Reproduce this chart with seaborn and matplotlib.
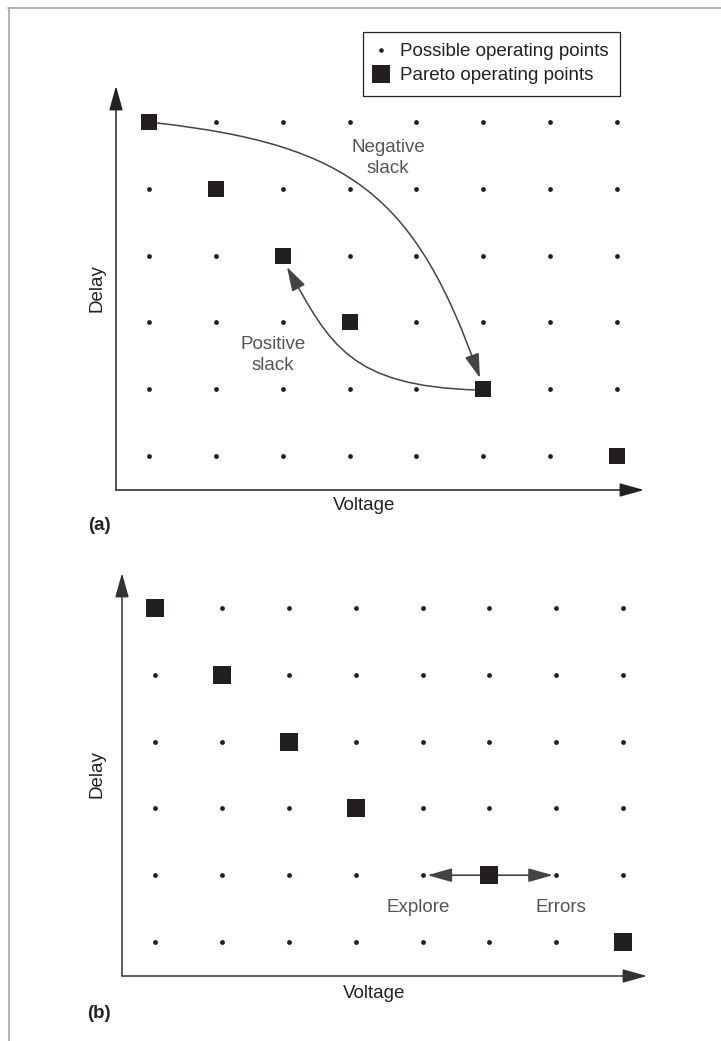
import numpy as np
import pandas as pd
import matplotlib
matplotlib.use("Agg")
import matplotlib.pyplot as plt
from matplotlib.patches import FancyArrowPatch
from matplotlib.path import Path
from matplotlib.lines import Line2D
import seaborn as sns

# ---- data -------------------------------------------------------------
voltage_levels = [0, 1, 2, 3, 4, 5, 6, 7]
delay_levels = [0, 1, 2, 3, 4, 5]

pareto_a_voltage = [0, 1, 2, 3, 5, 7]
pareto_a_delay = [5, 4, 3, 2, 1, 0]

pareto_b_voltage = [0, 1, 2, 3, 5, 7]
pareto_b_delay = [5, 4, 3, 2, 1, 0]

legend_labels = ["Possible operating points", "Pareto operating points"]
x_label = "Voltage"
y_label = "Delay"

# ---- style ------------------------------------------------------------
sns.set_style("white")
plt.rcParams["font.family"] = ["Liberation Sans", "DejaVu Sans"]

INK = "#231f20"
ARROW = "#444444"
NOTE = "#555555"
FS = 13.5

W, H = 721, 1041
fig = plt.figure(figsize=(W / 100, H / 100), dpi=100)

grid = pd.DataFrame(
    [(v, d) for v in voltage_levels for d in delay_levels],
    columns=["voltage", "delay"],
)


def px_axes(left, right, bottom, top):
    return fig.add_axes([left / W, 1 - bottom / H, (right - left) / W, (bottom - top) / H])


def axis_arrows(ax, color):
    style = "-|>,head_length=1.5,head_width=0.42"
    for tip in [(1, 0), (0, 1)]:
        ax.annotate("", xy=tip, xytext=(0, 0), xycoords="axes fraction",
                    textcoords="axes fraction", annotation_clip=False,
                    arrowprops=dict(arrowstyle=style, color=color, lw=1.1,
                                    shrinkA=0, shrinkB=0, mutation_scale=10))


def setup(ax, xlim, ylim):
    ax.set_xlim(*xlim)
    ax.set_ylim(*ylim)
    ax.set_xticks([])
    ax.set_yticks([])
    for s in ax.spines.values():
        s.set_visible(False)
    ax.patch.set_alpha(0)


def draw_points(ax, pv, pd_, sq_size):
    sns.scatterplot(data=grid, x="voltage", y="delay", ax=ax, s=12, color=INK,
                    linewidth=0, marker="o", legend=False)
    pareto = pd.DataFrame({"voltage": pv, "delay": pd_})
    sns.scatterplot(data=pareto, x="voltage", y="delay", ax=ax, s=sq_size, color=INK,
                    linewidth=0, marker="s", zorder=4, legend=False)
    ax.set_xlabel("")
    ax.set_ylabel("")


def curve(ax, verts):
    codes = [Path.MOVETO, Path.CURVE4, Path.CURVE4, Path.CURVE4]
    arr = FancyArrowPatch(path=Path(verts, codes),
                          arrowstyle="-|>,head_length=1.5,head_width=0.45",
                          mutation_scale=10, color=ARROW, lw=1.1, zorder=3)
    ax.add_patch(arr)


# ---- panel (a) --------------------------------------------------------
ax1 = px_axes(116, 644, 490, 86)
setup(ax1, (-0.4985, 7.406), (-0.509, 5.539))
draw_points(ax1, pareto_a_voltage, pareto_a_delay, 133)
axis_arrows(ax1, "#222222")

# negative slack: from the top-left Pareto point down to the (5, 1) point
curve(ax1, [(0.115, 4.985), (3.02, 4.656), (3.99, 3.892), (4.95, 1.168)])
# positive slack: from the (5, 1) point back up to the (2, 3) point
curve(ax1, [(4.906, 0.988), (3.004, 1.048), (2.705, 1.662), (2.061, 2.830)])

ax1.text(3.573, 4.461, "Negative\nslack", ha="center", va="center", ma="center",
         fontsize=FS, color=NOTE, linespacing=1.25)
ax1.text(1.852, 1.512, "Positive\nslack", ha="center", va="center", ma="center",
         fontsize=FS, color=NOTE, linespacing=1.25)

ax1.text((364 - 116) / 528, -(505 - 490) / 404, x_label, transform=ax1.transAxes,
         ha="center", va="center", fontsize=FS, color="#222222")
ax1.text(-0.036, 0.5, y_label, transform=ax1.transAxes, rotation=90,
         ha="center", va="center", fontsize=FS, color="#222222")
fig.text(99 / W, 1 - 525 / H, "(a)", ha="center", va="center", fontsize=FS,
         fontweight="bold", color="#222222")

handles = [
    Line2D([], [], ls="none", marker="o", ms=3.3, color=INK, markeredgewidth=0),
    Line2D([], [], ls="none", marker="s", ms=13, color=INK, markeredgewidth=0),
]
leg = ax1.legend(handles, legend_labels, loc="upper left",
                 bbox_to_anchor=(363 / W, 1 - 32 / H), bbox_transform=fig.transFigure,
                 borderaxespad=0, borderpad=0.6, labelspacing=0.36,
                 handlelength=0.75, handletextpad=0.64, fontsize=FS,
                 fancybox=False, framealpha=1, edgecolor="#222222")
leg.get_frame().set_linewidth(0.9)
for t in leg.get_texts():
    t.set_color("#222222")

# ---- panel (b) --------------------------------------------------------
ax2 = px_axes(122, 647, 976, 573)
setup(ax2, (-0.5015, 7.358), (-0.509, 5.524))
draw_points(ax2, pareto_b_voltage, pareto_b_delay, 187)
axis_arrows(ax2, "#333333")

# exploring towards lower voltage and into the error region
for tip in [(4.07, 1), (5.95, 1)]:
    ax2.annotate("", xy=tip, xytext=(5, 1), xycoords="data",
                 arrowprops=dict(arrowstyle="-|>,head_length=1.5,head_width=0.42",
                                 color=ARROW, lw=1.2, shrinkA=0, shrinkB=0,
                                 mutation_scale=10), zorder=3)

ax2.text(3.93, 0.509, "Explore", ha="center", va="center", fontsize=FS, color=NOTE)
ax2.text(6.07, 0.509, "Errors", ha="center", va="center", fontsize=FS, color=NOTE)

ax2.text((374 - 122) / 525, -(993 - 976) / 403, x_label, transform=ax2.transAxes,
         ha="center", va="center", fontsize=FS, color="#222222")
ax2.text(-0.0476, 0.5, y_label, transform=ax2.transAxes, rotation=90,
         ha="center", va="center", fontsize=FS, color="#222222")
fig.text(99 / W, 1 - 1013 / H, "(b)", ha="center", va="center", fontsize=FS,
         fontweight="bold", color="#222222")

# ---- outer frame (top and left rules) ---------------------------------
fig.add_artist(Line2D([8 / W, 1], [1 - 7.5 / H, 1 - 7.5 / H], color="#a0a0a0", lw=1.1))
fig.add_artist(Line2D([8.5 / W, 8.5 / W], [0, 1 - 7.5 / H], color="#a0a0a0", lw=1.1))

fig.savefig("out.png", dpi=100)
